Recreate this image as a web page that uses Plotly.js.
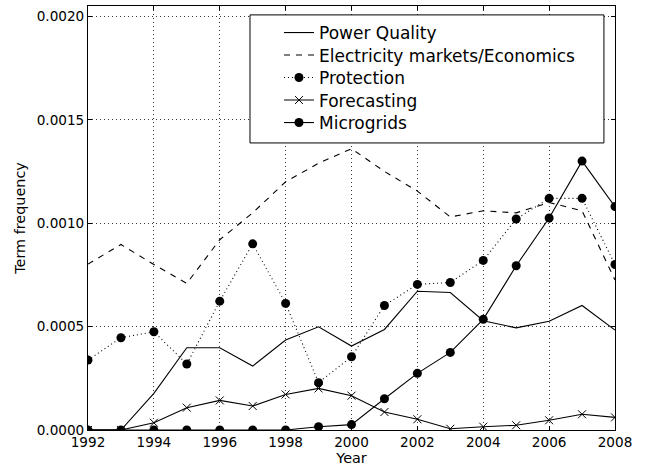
<!DOCTYPE html>
<html><head><meta charset="utf-8">
<script src="https://cdn.plot.ly/plotly-3.0.1.min.js"></script>
<style>html,body{margin:0;padding:0;background:#fff}</style>
</head><body><div id="chart" style="width:646px;height:468px"></div>
<script>
const years = [1992,1993,1994,1995,1996,1997,1998,1999,2000,2001,2002,2003,2004,2005,2006,2007,2008];
const powerQuality = [0,0,0.000177,0.000398,0.000398,0.000309,0.000435,0.000499,0.000406,0.000486,0.000671,0.000665,0.000528,0.000494,0.000526,0.000602,0.000483];
const electricity = [0.000802,0.000897,0.0008,0.000709,0.00092,0.00105,0.0012,0.00129,0.00136,0.00125,0.001155,0.00103,0.00106,0.00105,0.0011,0.00106,0.000725];
const protection = [0.000338,0.000446,0.000475,0.000319,0.000623,0.0009,0.000612,0.000229,0.000354,0.000602,0.000704,0.000713,0.00082,0.00102,0.00112,0.00112,0.0008];
const forecasting = [0,0,0.000035,0.000108,0.000143,0.000116,0.000172,0.000201,0.000166,0.000087,0.000052,0.000006,0.000016,0.000023,0.000047,0.000076,0.000061];
const microgrids = [0,0,0,0,0,0,0,0.000016,0.000026,0.000151,0.000274,0.000375,0.000535,0.000794,0.001025,0.0013,0.00108];
const seriesNames = ['Power Quality','Electricity markets/Economics','Protection','Forecasting','Microgrids'];
const xTicks = [1992,1994,1996,1998,2000,2002,2004,2006,2008];
const yTicks = [0,0.0005,0.001,0.0015,0.002];

const font = 'DejaVu Sans, sans-serif';
const traces = [
  {x: years, y: powerQuality, name: seriesNames[0], mode: 'lines',
   line: {color: '#000', width: 1.1}},
  {x: years, y: electricity, name: seriesNames[1], mode: 'lines',
   line: {color: '#000', width: 1.1, dash: '6px,6px'}},
  {x: years, y: protection, name: seriesNames[2], mode: 'lines+markers',
   line: {color: '#000', width: 1.1, dash: '1px,3px'},
   marker: {symbol: 'circle', size: 9, color: '#000'}},
  {x: years, y: forecasting, name: seriesNames[3], mode: 'lines+markers',
   line: {color: '#000', width: 1.1},
   marker: {symbol: 'x-thin-open', size: 8, color: '#000', line: {color: '#000', width: 1}}},
  {x: years, y: microgrids, name: seriesNames[4], mode: 'lines+markers',
   line: {color: '#000', width: 1.1},
   marker: {symbol: 'circle', size: 9, color: '#000'}}
];

const axisCommon = {
  showline: true, linecolor: '#000', linewidth: 1, mirror: 'allticks',
  ticks: 'inside', ticklen: 4, tickcolor: '#000', tickwidth: 1,
  showgrid: true, gridcolor: '#333', gridwidth: 1, griddash: '1px,3px',
  zeroline: false, tickfont: {family: font, size: 13.6, color: '#000'}
};

const layout = {
  width: 646, height: 468,
  margin: {l: 88, r: 31, t: 6, b: 38},
  paper_bgcolor: '#fff', plot_bgcolor: '#fff',
  font: {family: font, color: '#000'},
  showlegend: true,
  xaxis: Object.assign({}, axisCommon, {
    range: [1992, 2008], tickmode: 'array', tickvals: xTicks,
    ticktext: xTicks.map(String),
    title: {text: 'Year', font: {family: font, size: 14.4, color: '#000'}, standoff: 2}
  }),
  yaxis: Object.assign({}, axisCommon, {
    range: [0, 0.00205], tickmode: 'array', tickvals: yTicks,
    ticktext: yTicks.map(v => v.toFixed(4)),
    title: {text: 'Term frequency', font: {family: font, size: 14.4, color: '#000'}, standoff: 7}
  }),
  shapes: [{
    type: 'rect', xref: 'paper', yref: 'paper', layer: 'above',
    x0: 0.3074, x1: 0.979, y0: 0.677, y1: 0.979,
    line: {color: '#000', width: 1}, fillcolor: '#fff'
  }]
};

// one legend per row so the row spacing matches the reference
const plotTop = 6, plotH = 424;
traces.forEach((t, i) => {
  const key = i === 0 ? 'legend' : 'legend' + (i + 1);
  t.legend = key;
  const rowCenter = 33 + 22.5 * i;           // px from top of figure
  const legTop = rowCenter - 18;
  layout[key] = {
    x: 0.3624, y: (plotTop + plotH - legTop) / plotH,
    xanchor: 'left', yanchor: 'top',
    bgcolor: 'rgba(0,0,0,0)', borderwidth: 0,
    font: {family: font, size: 17, color: '#000'}
  };
});

Plotly.newPlot('chart', traces, layout, {displayModeBar: false, staticPlot: true});
</script>
</body></html>
